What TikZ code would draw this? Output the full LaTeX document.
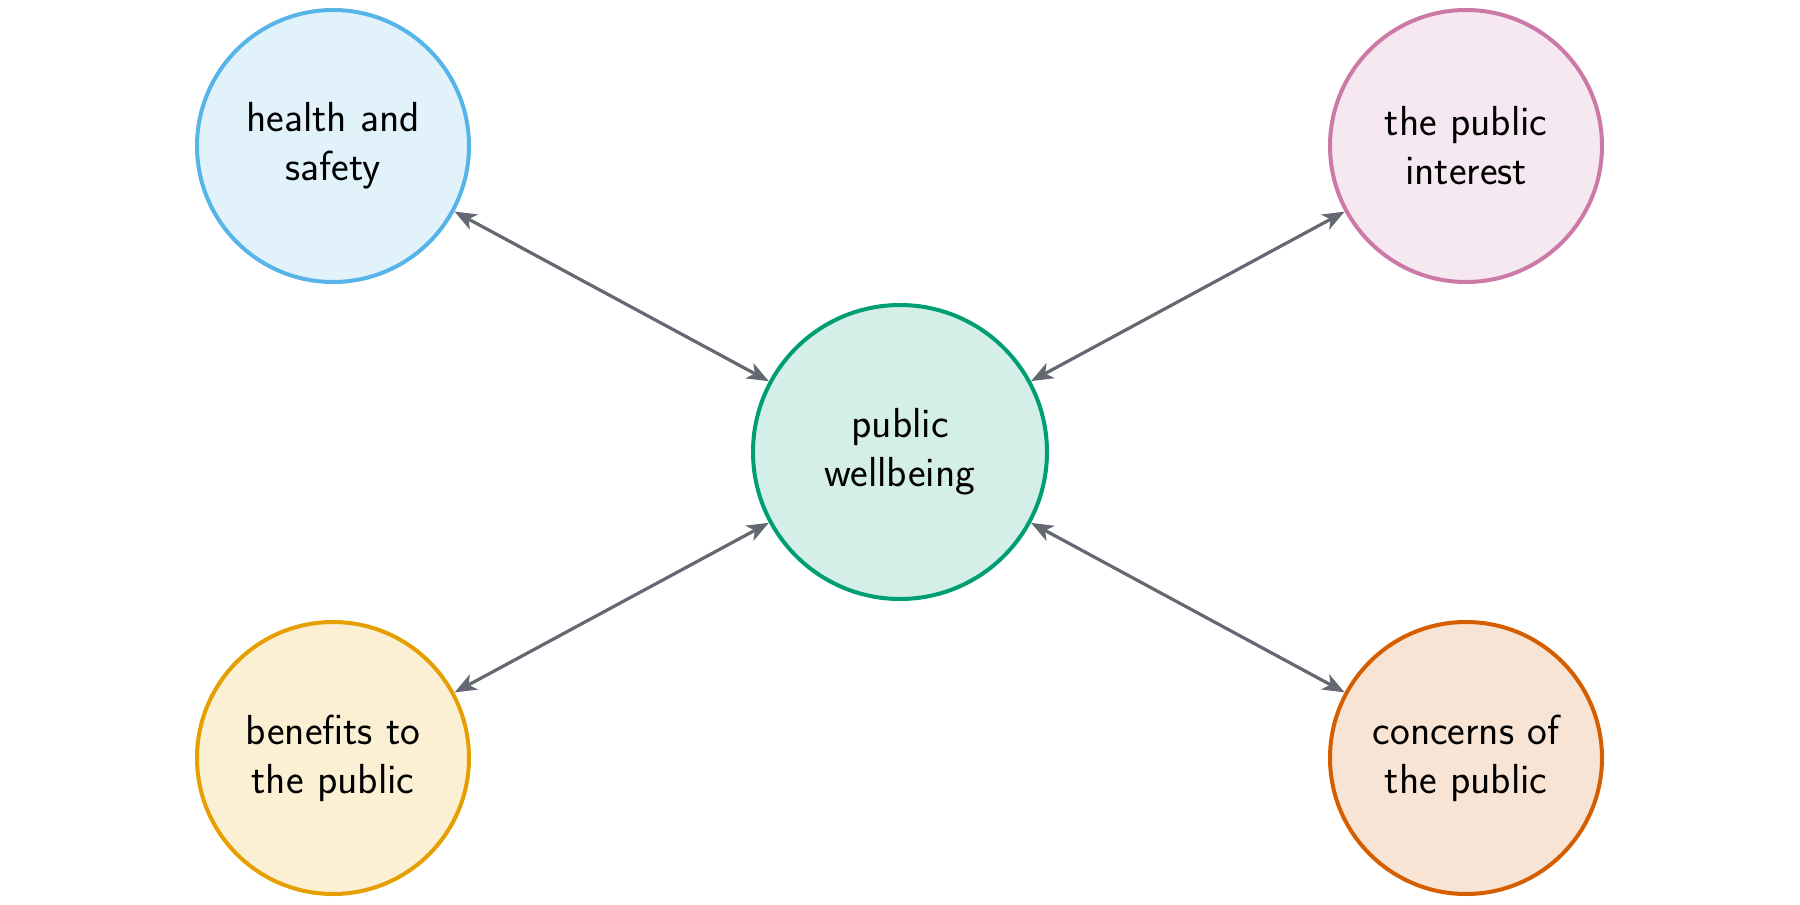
\documentclass[tikz,border=0pt]{standalone}
\usetikzlibrary{arrows.meta}
\definecolor{cblue}{HTML}{56B4E9}
\definecolor{cgreen}{HTML}{009E73}
\definecolor{cpurple}{HTML}{CC79A7}
\definecolor{corange}{HTML}{E69F00}
\definecolor{cverm}{HTML}{D55E00}
\definecolor{cgray}{HTML}{646872}
\begin{document}
\begin{tikzpicture}[x=0.5pt,y=-0.5pt,
  concept/.style={circle, draw=#1, fill=#1!17!white, line width=2pt,
    minimum size=136pt, inner sep=0pt, align=center,
    font=\sffamily\fontsize{21}{24.5}\selectfont},
  link/.style={draw=cgray, line width=1.6pt,
    {Stealth[length=11pt,width=8.5pt,inset=3pt]}-{Stealth[length=11pt,width=8.5pt,inset=3pt]}}]
\useasboundingbox (0,0) rectangle (1800,905);
\node[concept=cgreen, minimum size=147pt] (c) at (900,452) {public\\wellbeing};
\node[concept=cblue] (tl) at (333,146) {health and\\safety};
\node[concept=cpurple] (tr) at (1466,146) {the public\\interest};
\node[concept=corange] (bl) at (333,758) {benefits to\\the public};
\node[concept=cverm] (br) at (1466,758) {concerns of\\the public};
\draw[link] (tl) -- (c);
\draw[link] (tr) -- (c);
\draw[link] (bl) -- (c);
\draw[link] (br) -- (c);
\end{tikzpicture}
\end{document}
